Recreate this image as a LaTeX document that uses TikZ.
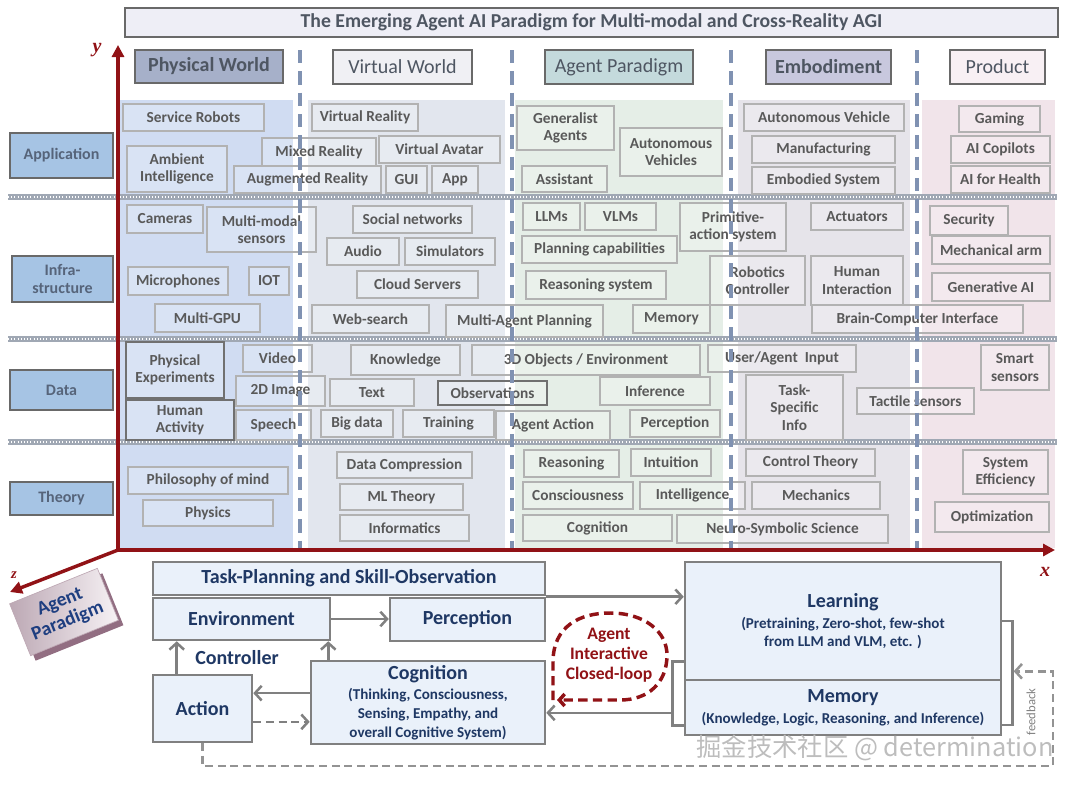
\documentclass[tikz,border=0pt]{standalone}
\usepackage{fontspec}
\setmainfont{Carlito}
\newfontfamily\axisfont{Liberation Serif}
\newfontfamily\cjkfont{Noto Sans CJK SC}
\usetikzlibrary{arrows.meta,positioning}

\definecolor{axisred}{RGB}{145,18,22}
\definecolor{cellline}{RGB}{178,178,178}
\definecolor{darkline}{RGB}{112,112,112}
\definecolor{celltext}{RGB}{89,89,89}
\definecolor{headline}{RGB}{105,105,105}
\definecolor{headtext}{RGB}{78,86,98}
\definecolor{physhead}{RGB}{166,176,201}
\definecolor{virthead}{RGB}{240,240,244}
\definecolor{agenthead}{RGB}{196,218,220}
\definecolor{embhead}{RGB}{200,200,222}
\definecolor{prodhead}{RGB}{248,240,244}
\definecolor{physbg}{RGB}{208,220,242}
\definecolor{virtbg}{RGB}{226,230,238}
\definecolor{agentbg}{RGB}{229,238,231}
\definecolor{embbg}{RGB}{230,228,234}
\definecolor{prodbg}{RGB}{241,228,234}
\definecolor{rowfill}{RGB}{166,196,228}
\definecolor{rowtext}{RGB}{86,100,122}
\definecolor{colsepc}{RGB}{128,146,178}
\definecolor{rowsepc}{RGB}{160,168,180}
\definecolor{flowfill}{RGB}{234,241,250}
\definecolor{flowline}{RGB}{128,128,128}
\definecolor{flowtext}{RGB}{31,56,100}
\definecolor{titlefill}{RGB}{238,238,246}
\definecolor{paradigmtext}{RGB}{30,62,128}
\definecolor{paradigmleft}{RGB}{188,168,180}
\definecolor{paradigmright}{RGB}{247,242,245}
\definecolor{paradigmside}{RGB}{146,110,130}

% box from pixel corners (x1,y1)-(x2,y2)
\newcommand{\boxat}[7][cellbox]{%
  \node[#1, minimum width={(#5-#3)*0.75pt}, minimum height={(#6-#4)*0.75pt}]
    (#2) at ({(#3+#5)/2},{(#4+#6)/2}) {#7};}
\newcommand{\detailfont}{\fontsize{11.3}{13.9}\selectfont}

\begin{document}
\begin{tikzpicture}[x=0.75pt, y=-0.75pt,
 cellbox/.style={draw=cellline, line width=0.9pt, fill=white, fill opacity=0.2,
   text opacity=1, text=celltext, font=\bfseries\fontsize{11.5}{13}\selectfont,
   align=center, inner sep=1pt},
 headbox/.style={draw=headline, line width=2pt, text=headtext,
   font=\fontsize{15}{16}\selectfont, inner sep=1pt},
 titlebox/.style={draw=headline, line width=2pt, fill=titlefill, text=headtext,
   font=\bfseries\fontsize{14.8}{16}\selectfont, inner sep=1pt},
 rowbox/.style={draw=headline, line width=2pt, fill=rowfill, text=rowtext,
   font=\bfseries\fontsize{12}{13.5}\selectfont, align=center, inner sep=1pt},
 flowbox/.style={draw=flowline, line width=1.9pt, fill=flowfill, text=flowtext,
   font=\bfseries\fontsize{15}{13.9}\selectfont, align=center, inner sep=1pt},
 flowlabel/.style={text=flowtext, font=\bfseries\fontsize{15}{16}\selectfont},
 looptext/.style={text=axisred, font=\bfseries\fontsize{13.2}{15}\selectfont, align=center},
 loopline/.style={draw=axisred, line width=2.6pt, dash pattern=on 7pt off 4pt,
   -{Straight Barb[length=4pt,width=9pt]}},
 axis/.style={draw=axisred, line width=3pt, -{Triangle[length=9pt,width=9pt]}},
 axislabel/.style={text=axisred, font=\axisfont\bfseries\itshape\fontsize{15}{15}\selectfont},
 flow/.style={draw=flowline, line width=1.9pt, -{Straight Barb[length=5pt,width=11pt]}},
 bracket/.style={draw=flowline, line width=1.9pt},
 feedback/.style={flow, draw=flowline!85, dash pattern=on 6pt off 3.5pt},
 columnline/.style={draw=colsepc, line width=2.3pt, dash pattern=on 10pt off 6pt},
 rowline/.style={draw=rowsepc, line width=3.8pt},
 rowdots/.style={draw=white, line width=0.8pt, dash pattern=on 0.8pt off 1.6pt},
 paradigmbox/.style={left color=paradigmleft, right color=paradigmright,
   draw=paradigmside!60, line width=0.5pt, text=paradigmtext,
   font=\bfseries\fontsize{14.5}{15.5}\selectfont, align=center,
   minimum width=71pt, minimum height=42pt, inner sep=1pt},
 fblabel/.style={text=flowline, font=\fontsize{9.5}{10}\selectfont},
 watermark/.style={text=black!26, font=\cjkfont\fontsize{19}{19}\selectfont}]
\useasboundingbox (0,0) rectangle (1077,785);

% column backgrounds
\fill[physbg] (120,100) rectangle (293,548);
\fill[virtbg] (308,100) rectangle (505,548);
\fill[agentbg] (515,100) rectangle (723,548);
\fill[embbg] (738,100) rectangle (910,548);
\fill[prodbg] (922,100) rectangle (1055,548);

% row separators
\foreach \ry in {197,339,442} {
  \draw[rowline] (8,\ry) -- (1057,\ry);
  \draw[rowdots] (8,\ry) -- (1057,\ry);
}

\boxat[titlebox]{title}{125}{8}{1058}{37}{The Emerging Agent AI Paradigm for Multi-modal and Cross-Reality AGI}

% column headers
\boxat[headbox, fill=physhead, font=\bfseries\fontsize{15}{16}\selectfont]{physical}{135}{50}{283}{83}{Physical World}
\boxat[headbox, fill=virthead]{virtual}{333}{50}{472}{84}{Virtual World}
\boxat[headbox, fill=agenthead]{agent}{545}{50}{693}{84}{Agent Paradigm}
\boxat[headbox, fill=embhead, font=\bfseries\fontsize{15}{16}\selectfont]{embodiment}{766}{50}{891}{84}{Embodiment}
\boxat[headbox, fill=prodhead]{product}{950}{50}{1045}{84}{Product}

% row labels
\boxat[rowbox]{application}{10}{133}{113}{178}{Application}
\boxat[rowbox]{infra}{12}{256}{113}{302}{Infra-\\structure}
\boxat[rowbox]{data}{10}{370}{113}{410}{Data}
\boxat[rowbox]{theory}{10}{482}{113}{515}{Theory}

% application
\boxat{servicerobots}{123}{104}{264}{131}{Service Robots}
\boxat{ambient}{127}{146}{227}{192}{Ambient\\Intelligence}
\boxat{vreality}{312}{104}{418}{131}{Virtual Reality}
\boxat{mixed}{262}{138}{376}{166}{Mixed Reality}
\boxat{avatar}{379}{136}{500}{163}{Virtual Avatar}
\boxat{augmented}{234}{166}{381}{193}{Augmented Reality}
\boxat{gui}{386}{166}{427}{193}{GUI}
\boxat{app}{432}{166}{478}{193}{App}
\boxat{generalist}{517}{106}{614}{150}{Generalist\\Agents}
\boxat{autovehicles}{620}{128}{722}{176}{Autonomous\\Vehicles}
\boxat{assistant}{522}{166}{607}{192}{Assistant}
\boxat{autovehicle}{744}{104}{904}{131}{Autonomous Vehicle}
\boxat{manufacturing}{752}{136}{895}{163}{Manufacturing}
\boxat{embodied}{752}{167}{895}{194}{Embodied System}
\boxat{gaming}{959}{106}{1040}{132}{Gaming}
\boxat{copilots}{951}{136}{1050}{163}{AI Copilots}
\boxat{health}{951}{166}{1050}{193}{AI for Health}

% infrastructure
\boxat{cameras}{127}{205}{203}{233}{Cameras}
\boxat{multimodal}{207}{207}{316}{252}{Multi-modal\\sensors}
\boxat{microphones}{128}{267}{228}{295}{Microphones}
\boxat{iot}{249}{267}{289}{295}{IOT}
\boxat{multigpu}{155}{304}{260}{332}{Multi-GPU}
\boxat{social}{353}{206}{472}{233}{Social networks}
\boxat{audio}{327}{238}{399}{265}{Audio}
\boxat{simulators}{405}{238}{495}{265}{Simulators}
\boxat{cloud}{357}{271}{478}{298}{Cloud Servers}
\boxat{websearch}{312}{305}{429}{333}{Web-search}
\boxat{multiagent}{446}{305}{603}{337}{Multi-Agent Planning}
\boxat{llms}{523}{203}{580}{230}{LLMs}
\boxat{vlms}{585}{203}{656}{230}{VLMs}
\boxat{primitive}{680}{203}{786}{251}{Primitive-\\action system}
\boxat{planning}{522}{236}{677}{263}{Planning capabilities}
\boxat{reasoningsys}{526}{271}{666}{299}{Reasoning system}
\boxat{memorycell}{633}{305}{710}{333}{Memory}
\boxat{robotics}{710}{256}{805}{305}{Robotics\\Controller}
\boxat{actuators}{811}{203}{903}{230}{Actuators}
\boxat{human}{811}{256}{903}{305}{Human\\Interaction}
\boxat{bci}{812}{305}{1023}{333}{Brain-Computer Interface}
\boxat{security}{930}{206}{1008}{235}{Security}
\boxat{mecharm}{932}{236}{1050}{264}{Mechanical arm}
\boxat{genai}{932}{273}{1050}{301}{Generative AI}

% data
\boxat[cellbox, draw=darkline]{physexp}{126}{342}{224}{398}{Physical\\Experiments}
\boxat[cellbox, draw=darkline]{humanact}{126}{400}{234}{440}{Human\\Activity}
\boxat{video}{243}{345}{312}{372}{Video}
\boxat{image}{236}{376}{325}{406}{2D Image}
\boxat{speech}{236}{410}{311}{440}{Speech}
\boxat{knowledge}{351}{345}{460}{375}{Knowledge}
\boxat{text}{330}{379}{414}{406}{Text}
\boxat{bigdata}{321}{410}{393}{437}{Big data}
\boxat{training}{403}{410}{494}{437}{Training}
\boxat[cellbox, draw=darkline]{observations}{438}{381}{547}{405}{Observations}
\boxat{objects}{472}{345}{700}{375}{3D Objects / Environment}
\boxat{inference}{600}{377}{710}{405}{Inference}
\boxat{agentaction}{496}{411}{610}{440}{Agent Action}
\boxat{perceptioncell}{630}{410}{720}{437}{Perception}
\boxat{userinput}{708}{345}{856}{372}{User/Agent\ \ Input}
\boxat{taskinfo}{746}{375}{843}{440}{Task-\\Specific\\Info}
\boxat{tactile}{857}{388}{974}{414}{Tactile sensors}
\boxat{smart}{981}{345}{1049}{390}{Smart\\sensors}

% theory
\boxat{philosophy}{128}{467}{288}{494}{Philosophy of mind}
\boxat{physics}{143}{500}{273}{526}{Physics}
\boxat{compression}{337}{452}{472}{478}{Data Compression}
\boxat{mltheory}{340}{484}{463}{510}{ML Theory}
\boxat{informatics}{340}{515}{469}{541}{Informatics}
\boxat{reasoning}{524}{450}{619}{477}{Reasoning}
\boxat{intuition}{631}{449}{711}{476}{Intuition}
\boxat{consciousness}{523}{482}{633}{509}{Consciousness}
\boxat{intelligence}{640}{482}{745}{509}{Intelligence}
\boxat{cognitioncell}{523}{515}{672}{541}{Cognition}
\boxat{neuro}{677}{515}{888}{543}{Neuro-Symbolic Science}
\boxat{control}{746}{449}{875}{476}{Control Theory}
\boxat{mechanics}{752}{482}{880}{509}{Mechanics}
\boxat{efficiency}{963}{450}{1048}{494}{System\\Efficiency}
\boxat{optimization}{935}{502}{1049}{532}{Optimization}

% dashed column separators
\foreach \cx in {300,512,731,917}
  \draw[columnline] (\cx,50) -- (\cx,548);

% axes
\coordinate (origin) at (118,550);
\coordinate (ytip) at (118,45);
\coordinate (xtip) at (1055,550);
\coordinate (ztip) at (10,592);
\draw[axis] (origin) -- (ytip);
\draw[axis] (origin) -- (xtip);
\draw[axis, line width=2.6pt] (origin) -- (ztip);
\node[axislabel] (ylabel) at (97,50) {y};
\node[axislabel] (xlabel) at (1045,572) {x};
\node[axislabel, font=\axisfont\bfseries\itshape\fontsize{11}{11}\selectfont] (zlabel) at (14,575) {z};

% agent paradigm block
\node[rotate=22, fill=paradigmside, minimum width=71pt, minimum height=42pt] (paradigmside) at (69,617) {};
\node[paradigmbox, rotate=22] (paradigm) at (64,612) {Agent\\Paradigm};

% agent loop
\boxat[flowbox]{taskplan}{153}{562}{545}{595}{Task-Planning and Skill-Observation}
\boxat[flowbox]{environment}{153}{598}{330}{640}{Environment}
\boxat[flowbox]{perception}{390}{598}{545}{641}{Perception}
\boxat[flowbox]{action}{153}{675}{252}{742}{Action}
\boxat[flowbox]{cognition}{311}{661}{545}{744}{Cognition\\[1.5pt]\detailfont(Thinking, Consciousness,\\\detailfont Sensing, Empathy, and\\\detailfont overall Cognitive System)}
\boxat[flowbox]{learning}{685}{562}{1001}{680}{Learning\\[2pt]\detailfont(Pretraining, Zero-shot, few-shot\\\detailfont from LLM and VLM, etc. )}
\boxat[flowbox]{memory}{685}{680}{1001}{735}{Memory\\[2pt]\detailfont(Knowledge, Logic, Reasoning, and Inference)}
\node[flowlabel] (controller) at (237,658) {Controller};

\node[looptext] (loop) at (609,655) {Agent\\Interactive\\Closed-loop};
\draw[loopline] (553,700) -- (553,662) .. controls (553,626) and (580,613) .. (610,613)
  .. controls (645,613) and (667,632) .. (667,655)
  .. controls (667,683) and (648,700) .. (620,700) -- (557,700);

\draw[flow] (environment.east) -- (environment.east -| perception.west);
\draw[flow] (perception.north east) -- (perception.north east -| learning.west);
\coordinate (ctrlup) at ([xshift=18.75pt]action.north west);
\draw[flow] (ctrlup) -- (ctrlup |- environment.south);
\coordinate (cogup) at ([xshift=-2.25pt]environment.south east);
\draw[flow] (cogup |- cognition.north) -- (cogup);
\coordinate (cogleft) at ([yshift=7pt]cognition.west);
\draw[flow] (cogleft) -- (cogleft -| action.east);
\coordinate (actright) at ([yshift=-10pt]action.east);
\draw[flow, dash pattern=on 6pt off 3.5pt] (actright) -- (actright -| cognition.west);

% memory brackets
\draw[bracket] ([yshift=12.75pt]memory.north west) -- ++(-11,0) -- ++(0,64) -- ++(11,0);
\coordinate (memout) at ([xshift=-8.25pt,yshift=-4pt]memory.west);
\draw[flow] (memout) -- (memout -| cognition.east);
\draw[bracket] (learning.east) -- ++(10,0) -- ++(0,104) -- ++(-10,0);

% feedback
\coordinate (fbin) at ([xshift=8.5pt,yshift=7.5pt]learning.south east);
\coordinate (fbcorner) at (1053,766);
\draw[feedback] (action.south) |- (fbcorner) |- (fbin);
\node[fblabel, rotate=90] (fb) at (1031,712) {feedback};

\node[watermark] (mark) at (875,748) {掘金技术社区 @ determination};
\end{tikzpicture}
\end{document}
